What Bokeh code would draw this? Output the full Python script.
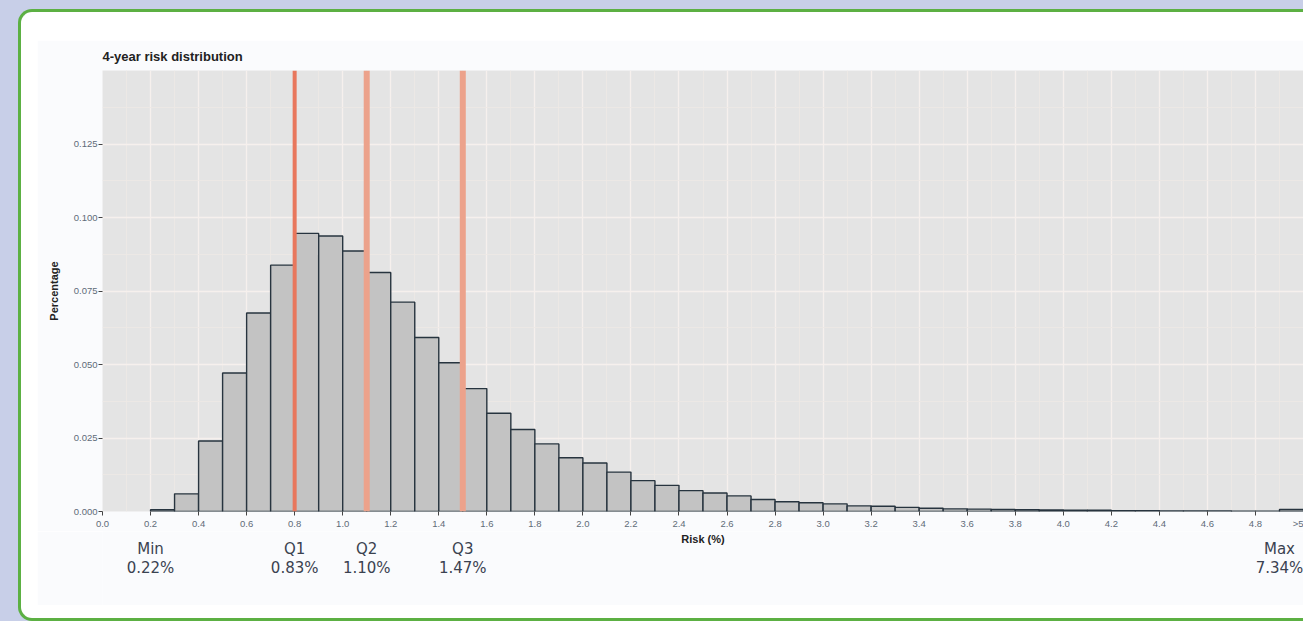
from bokeh.plotting import figure
from bokeh.models import FixedTicker, CustomJSTickFormatter, NumeralTickFormatter, Span, Range1d
from bokeh.core.properties import value
from bokeh.layouts import column
from bokeh.embed import file_html
from bokeh.resources import INLINE

# ---------------- data ----------------
bin_left = [0.2, 0.3, 0.4, 0.5, 0.6, 0.7, 0.8, 0.9, 1.0, 1.1, 1.2, 1.3, 1.4, 1.5,
            1.6, 1.7, 1.8, 1.9, 2.0, 2.1, 2.2, 2.3, 2.4, 2.5, 2.6, 2.7, 2.8, 2.9,
            3.0, 3.1, 3.2, 3.3, 3.4, 3.5, 3.6, 3.7, 3.8, 3.9, 4.0, 4.1, 4.2, 4.3,
            4.4, 4.5, 4.6, 4.7, 4.8, 4.9]
share = [0.0006, 0.0060, 0.0240, 0.0471, 0.0675, 0.0838, 0.0946, 0.0937, 0.0886,
         0.0813, 0.0712, 0.0592, 0.0506, 0.0418, 0.0334, 0.0279, 0.0230, 0.0183,
         0.0165, 0.0134, 0.0105, 0.0089, 0.0071, 0.0063, 0.0053, 0.0041, 0.0033,
         0.0030, 0.0026, 0.0019, 0.0018, 0.0014, 0.0011, 0.0009, 0.0008, 0.0007,
         0.0006, 0.0005, 0.0004, 0.0004, 0.0003, 0.0003, 0.0002, 0.0002, 0.0002,
         0.0001, 0.0001, 0.0007]
bin_width = 0.1

x_ticks = [0.0, 0.2, 0.4, 0.6, 0.8, 1.0, 1.2, 1.4, 1.6, 1.8, 2.0, 2.2, 2.4, 2.6,
           2.8, 3.0, 3.2, 3.4, 3.6, 3.8, 4.0, 4.2, 4.4, 4.6, 4.8, 5.0]
x_minor = [0.1, 0.3, 0.5, 0.7, 0.9, 1.1, 1.3, 1.5, 1.7, 1.9, 2.1, 2.3, 2.5, 2.7,
           2.9, 3.1, 3.3, 3.5, 3.7, 3.9, 4.1, 4.3, 4.5, 4.7, 4.9]
y_ticks = [0.0, 0.025, 0.05, 0.075, 0.1, 0.125]
y_minor = [0.0125, 0.0375, 0.0625, 0.0875, 0.1125, 0.1375]

stat_names = ["Min", "Q1", "Q2", "Q3", "Max"]
stat_values = ["0.22%", "0.83%", "1.10%", "1.47%", "7.34%"]
stat_x = [0.2, 0.8, 1.1, 1.5, 4.9]
quartile_line_x = [0.8, 1.1, 1.5]

title_text = "4-year risk distribution"
x_title = "Risk (%)"
x_title_pos = 2.5
y_title = "Percentage"

BORDER = "#fafbfd"

# ---------------- main histogram ----------------
p = figure(width=1266, height=491, x_range=(0, 5.0), y_range=(0, 0.15),
           output_backend="svg", toolbar_location=None,
           min_border_left=65, min_border_right=0, min_border_top=30, min_border_bottom=18,
           background_fill_color="#e4e4e4", border_fill_color=BORDER,
           outline_line_color=None, title=title_text)

p.title.text_font = "Liberation Sans"
p.title.text_font_size = "13px"
p.title.text_font_style = "bold"
p.title.text_color = "#222222"
p.title.align = "left"
p.title.standoff = 13

right = [l + bin_width for l in bin_left]
p.quad(left=bin_left, right=right, top=share, bottom=0,
       fill_color="#c3c3c3", line_color="#27343f", line_width=1.4)

for i, xq in enumerate(quartile_line_x):
    if i == 0:
        sp = Span(location=xq, dimension="height", line_color="#e8775d", line_width=4)
    else:
        sp = Span(location=xq, dimension="height", line_color="#eca28b", line_width=6)
    p.add_layout(sp)

for ax in (p.xaxis[0], p.yaxis[0]):
    ax.axis_line_color = None
    ax.major_tick_line_color = "#444444"
    ax.major_tick_in = 0
    ax.major_tick_out = 4
    ax.minor_tick_line_color = None
    ax.major_label_text_font = "Liberation Sans"
    ax.major_label_text_font_size = "9.5px"
    ax.major_label_text_color = "#5f6b78"
    ax.axis_label_text_font = "Liberation Sans"
    ax.axis_label_text_font_size = "11px"
    ax.axis_label_text_font_style = "bold"
    ax.axis_label_text_color = "#222222"

p.xaxis.ticker = FixedTicker(ticks=x_ticks, minor_ticks=x_minor)
p.xaxis.formatter = CustomJSTickFormatter(code="return tick >= 4.99 ? '>5' : tick.toFixed(1);")
p.xaxis.major_label_standoff = 2

p.yaxis.ticker = FixedTicker(ticks=y_ticks, minor_ticks=y_minor)
p.yaxis.formatter = NumeralTickFormatter(format="0.000")
p.yaxis.major_label_standoff = 1
p.yaxis.axis_label = y_title
p.yaxis.axis_label_standoff = 11

p.xgrid.grid_line_color = "#f6f0ed"
p.xgrid.grid_line_width = 1.3
p.xgrid.minor_grid_line_color = "#eee8e5"
p.xgrid.minor_grid_line_width = 0.8
p.ygrid.grid_line_color = "#f6f0ed"
p.ygrid.grid_line_width = 1.3
p.ygrid.minor_grid_line_color = "#eee8e5"
p.ygrid.minor_grid_line_width = 0.8

# ---------------- strip below: axis title + summary statistics ----------------
# y of this strip is measured in pixels downward from its top
s = figure(width=1266, height=74, x_range=p.x_range, y_range=Range1d(74, 0),
           output_backend="svg", toolbar_location=None,
           min_border_left=65, min_border_right=0, min_border_top=0, min_border_bottom=0,
           background_fill_color=BORDER, border_fill_color=BORDER,
           outline_line_color=None)
s.xaxis.visible = False
s.yaxis.visible = False
s.grid.visible = False

s.text(x=[x_title_pos], y=[7], text=[x_title], text_align="center", text_baseline="middle",
       text_font=value("Liberation Sans"), text_font_size="11px", text_font_style="bold",
       text_color="#222222")
s.text(x=stat_x, y=[17] * len(stat_x), text=stat_names, text_align="center",
       text_baseline="middle", text_font=value("DejaVu Sans"), text_font_size="15px",
       text_color="#3a4250")
s.text(x=stat_x, y=[36] * len(stat_x), text=stat_values, text_align="center",
       text_baseline="middle", text_font=value("DejaVu Sans"), text_font_size="15px",
       text_color="#3a4250")

p.margin = (28, 0, 0, 16)
s.margin = (0, 0, 13, 16)

panel = column(p, s, margin=(17, 0, 0, 26), styles={
    "background-color": "#ffffff",
    "border-left": "3px solid #5cb043",
    "border-top": "3px solid #5cb043",
    "border-bottom": "3px solid #5cb043",
    "border-top-left-radius": "14px",
    "border-bottom-left-radius": "14px",
})
outer = column(panel, styles={"background-color": "#c8cfe8", "margin-left": "-8px", "margin-top": "-8px"})

open("out.html", "w").write(file_html(outer, INLINE))
